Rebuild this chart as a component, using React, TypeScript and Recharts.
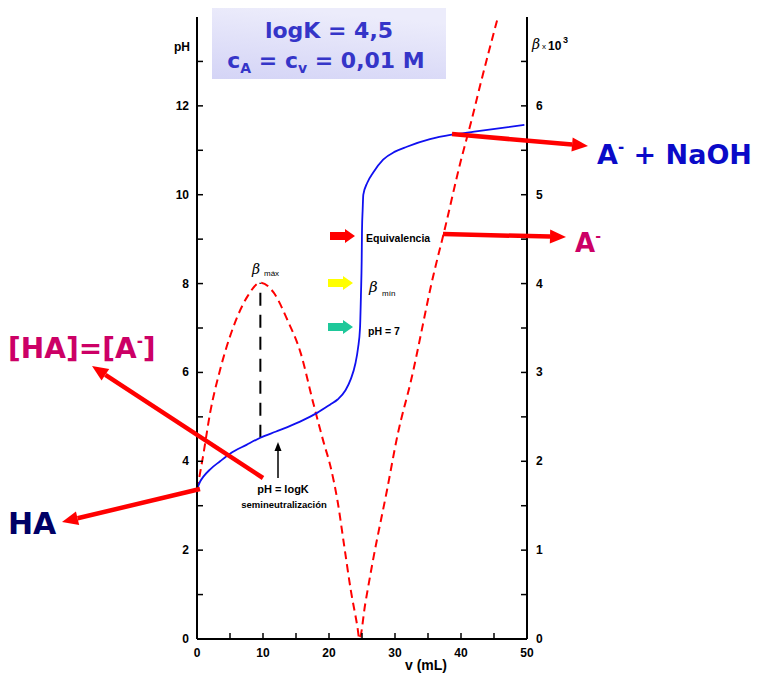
import { LineChart, Line, XAxis, YAxis, ReferenceLine } from 'recharts';

// titration of a weak acid (logK 4,5) with NaOH, both 0,01 M
const phVolumes = [0, 0.5, 1, 2, 3.5, 5, 7.5, 9.6, 12, 13.7, 16, 18.2, 20.2, 21.3, 22.5, 23.3, 24, 24.4, 24.7, 24.85, 24.95, 25, 25.1, 25.2, 25.8, 26.7, 28.2, 30, 31.8, 35.3, 38.6, 42, 46, 49.6];
const phValues = [3.38, 3.55, 3.66, 3.82, 4.0, 4.17, 4.37, 4.53, 4.67, 4.77, 4.92, 5.09, 5.28, 5.39, 5.6, 5.85, 6.2, 6.55, 7.0, 7.8, 8.5, 9.2, 9.66, 10.0, 10.27, 10.5, 10.79, 10.97, 11.08, 11.25, 11.35, 11.42, 11.5, 11.57];

// buffer capacity beta x 10^3
const betaVolumes = [0, 0.9, 2, 3.5, 5.5, 7.6, 9.6, 11.6, 13.7, 15.7, 17.6, 19.2, 20.2, 21.3, 22.3, 23.3, 24.3, 24.6, 25.5, 26.6, 28.8, 30.4, 32.4, 35.9, 37.4, 40, 41.5, 43, 45.6];
const betaValues = [1.68, 2.05, 2.55, 3.03, 3.51, 3.85, 4.01, 3.9, 3.59, 3.22, 2.66, 2.21, 1.95, 1.55, 1.05, 0.55, 0.14, 0, 0.4, 0.86, 1.68, 2.3, 2.9, 4.12, 4.57, 5.39, 5.81, 6.26, 7.0];

const phTicks = [0, 1, 2, 3, 4, 5, 6, 7, 8, 9, 10, 11, 12, 13];
const betaTicks = [0, 0.5, 1, 1.5, 2, 2.5, 3, 3.5, 4, 4.5, 5, 5.5, 6, 6.5];
const vTicks = [0, 5, 10, 15, 20, 25, 30, 35, 40, 45, 50];

// beta max marker: volume, pH on the curve, top (beta 4,01 -> pH scale)
const bmaxV = 9.6;
const bmaxPhLow = 4.53;
const bmaxPhTop = 8.02;

const phData = phVolumes.map((v, i) => ({ v, ph: phValues[i] }));
const betaData = betaVolumes.map((v, i) => ({ v, beta: betaValues[i] }));

const tickFont = { fontFamily: '"Liberation Sans", Arial, sans-serif', fontWeight: 700, fontSize: 12 };
const bigFont = '"DejaVu Sans", Verdana, sans-serif';

const LeftTick = (props: any) => {
  const { x, y, payload } = props;
  const val = payload.value;
  return (
    <g>
      <line x1={x} x2={x + 6} y1={y} y2={y} stroke="#000" strokeWidth={1.5} />
      {val % 2 === 0 && val <= 12 ? (
        <text x={x - 8} y={y + 4} textAnchor="end" fill="#000" {...tickFont}>{val}</text>
      ) : null}
    </g>
  );
};

const RightTick = (props: any) => {
  const { x, y, payload } = props;
  const val = payload.value;
  return (
    <g>
      <line x1={x - 6} x2={x} y1={y} y2={y} stroke="#000" strokeWidth={1.5} />
      {Number.isInteger(val) ? (
        <text x={x + 9} y={y + 4} textAnchor="start" fill="#000" {...tickFont}>{val}</text>
      ) : null}
    </g>
  );
};

const BottomTick = (props: any) => {
  const { x, y, payload } = props;
  const val = payload.value;
  return (
    <g>
      <line x1={x} x2={x} y1={y - 6} y2={y} stroke="#000" strokeWidth={1.5} />
      {val % 10 === 0 ? (
        <text x={x} y={y + 18} textAnchor="middle" fill="#000" {...tickFont}>{val}</text>
      ) : null}
    </g>
  );
};

function Arrow({ x1, y1, x2, y2, color = '#ff0000', w = 4.5, head = 16, hw = 7 }: any) {
  const dx = x2 - x1;
  const dy = y2 - y1;
  const len = Math.sqrt(dx * dx + dy * dy);
  const ux = dx / len;
  const uy = dy / len;
  const bx = x2 - ux * head;
  const by = y2 - uy * head;
  const px = -uy;
  const py = ux;
  const pts = `${x2},${y2} ${bx + px * hw},${by + py * hw} ${bx - px * hw},${by - py * hw}`;
  return (
    <g>
      <line x1={x1} y1={y1} x2={bx} y2={by} stroke={color} strokeWidth={w} />
      <polygon points={pts} fill={color} />
    </g>
  );
}

function BlockArrow({ x, y, color }: any) {
  // small horizontal block arrow, left edge x, centre y
  const pts = `${x},${y - 4} ${x + 15},${y - 4} ${x + 15},${y - 7} ${x + 25},${y} ${x + 15},${y + 7} ${x + 15},${y + 4} ${x},${y + 4}`;
  return <polygon points={pts} fill={color} />;
}

function Overlay() {
  return (
    <svg width={762} height={675} style={{ position: 'absolute', left: 0, top: 0, pointerEvents: 'none' }}>
      <defs>
        <linearGradient id="boxGrad" x1="0" y1="1" x2="0.3" y2="0">
          <stop offset="0%" stopColor="#d4d4f6" />
          <stop offset="100%" stopColor="#ececfb" />
        </linearGradient>
      </defs>
      <rect x={212} y={8} width={234} height={71} fill="url(#boxGrad)" />
      <text x={329} y={38} textAnchor="middle" fill="#3535c8" fontFamily={bigFont} fontWeight={700} fontSize={22}>
        logK = 4,5
      </text>
      <text x={326} y={68} textAnchor="middle" fill="#3535c8" fontFamily={bigFont} fontWeight={700} fontSize={22}>
        c<tspan fontSize={14} dy={5}>A</tspan>
        <tspan dy={-5}> = c</tspan>
        <tspan fontSize={14} dy={5}>v</tspan>
        <tspan dy={-5}> = 0,01 M</tspan>
      </text>

      {/* axis titles */}
      <text x={190} y={51} textAnchor="end" fill="#000" {...tickFont}>pH</text>
      <text x={532} y={49} fill="#000" fontFamily="'DejaVu Serif', serif" fontStyle="italic" fontSize={14}>β</text>
      <text x={542} y={49} fill="#000" fontFamily='"Liberation Sans", sans-serif' fontSize={8}>x</text>
      <text x={548} y={50} fill="#000" {...tickFont}>10</text>
      <text x={563} y={43} fill="#000" fontFamily='"Liberation Sans", sans-serif' fontWeight={700} fontSize={9}>3</text>
      <text x={426} y={670} textAnchor="middle" fill="#000" fontFamily='"Liberation Sans", sans-serif' fontWeight={700} fontSize={14}>
        v (mL)
      </text>

      {/* beta max / min markers */}
      <text x={252} y={274} fill="#000" fontFamily="'DejaVu Serif', serif" fontStyle="italic" fontSize={14}>β</text>
      <text x={264} y={276} fill="#000" fontFamily='"Liberation Sans", sans-serif' fontSize={8}>máx</text>
      <BlockArrow x={330} y={236} color="#ff0000" />
      <text x={366} y={242} fill="#000" fontFamily='"Liberation Sans", sans-serif' fontWeight={700} fontSize={10.5}>Equivalencia</text>
      <BlockArrow x={328} y={283} color="#ffff00" />
      <text x={369} y={292} fill="#000" fontFamily="'DejaVu Serif', serif" fontStyle="italic" fontSize={15}>β</text>
      <text x={382} y={296} fill="#000" fontFamily='"Liberation Sans", sans-serif' fontSize={8}>mín</text>
      <BlockArrow x={328} y={327} color="#1ec89a" />
      <text x={368} y={335} fill="#000" fontFamily='"Liberation Sans", sans-serif' fontWeight={700} fontSize={10.5}>pH = 7</text>

      <text x={283} y={493} textAnchor="middle" fill="#000" fontFamily='"Liberation Sans", sans-serif' fontWeight={700} fontSize={11}>pH = logK</text>
      <text x={284} y={508} textAnchor="middle" fill="#000" fontFamily='"Liberation Sans", sans-serif' fontWeight={700} fontSize={9.5}>semineutralización</text>
      <Arrow x1={278} y1={478} x2={278} y2={442} color="#000" w={1.5} head={9} hw={3.5} />

      {/* species labels */}
      <Arrow x1={452} y1={134} x2={588} y2={146} />
      <text x={597} y={164} fill="#0a0ac8" fontFamily={bigFont} fontWeight={700} fontSize={27}>
        A<tspan fontSize={15} dy={-12}>-</tspan>
        <tspan dy={12}> + NaOH</tspan>
      </text>
      <Arrow x1={443} y1={234} x2={566} y2={237} />
      <text x={575} y={252} fill="#cc0066" fontFamily={bigFont} fontWeight={700} fontSize={26}>
        A<tspan fontSize={14} dy={-11}>-</tspan>
      </text>
      <Arrow x1={263} y1={478} x2={92} y2={366} />
      <text x={8} y={358} fill="#cc0066" fontFamily={bigFont} fontWeight={700} fontSize={28}>
        [HA]=[A<tspan fontSize={15} dy={-12}>-</tspan>
        <tspan dy={12}>]</tspan>
      </text>
      <Arrow x1={200} y1={489} x2={62} y2={522} />
      <text x={8} y={534} fill="#000066" fontFamily={bigFont} fontWeight={700} fontSize={30}>HA</text>
    </svg>
  );
}

export default function App() {
  return (
    <div style={{ position: 'absolute', left: 0, top: 0, width: 762, height: 675, background: '#fff' }}>
      <LineChart width={762} height={675} margin={{ top: 17, right: 195, bottom: 0, left: 0 }}>
        <XAxis
          type="number"
          dataKey="v"
          domain={[0, 50]}
          ticks={vTicks}
          interval={0}
          height={36}
          stroke="#000"
          strokeWidth={2}
          tickSize={0}
          tickMargin={0}
          tick={<BottomTick />}
        />
        <YAxis
          yAxisId="ph"
          orientation="left"
          domain={[0, 14]}
          ticks={phTicks}
          interval={0}
          width={197}
          stroke="#000"
          strokeWidth={2}
          tickSize={0}
          tickMargin={0}
          tick={<LeftTick />}
        />
        <YAxis
          yAxisId="beta"
          orientation="right"
          domain={[0, 7]}
          ticks={betaTicks}
          interval={0}
          width={40}
          allowDataOverflow
          stroke="#000"
          strokeWidth={2}
          tickSize={0}
          tickMargin={0}
          tick={<RightTick />}
        />
        <ReferenceLine
          yAxisId="ph"
          segment={[{ x: bmaxV, y: bmaxPhLow }, { x: bmaxV, y: bmaxPhTop }]}
          stroke="#000"
          strokeWidth={2}
          strokeDasharray="13 9"
        />
        <Line
          yAxisId="beta"
          data={betaData}
          dataKey="beta"
          type="monotone"
          stroke="#ff0000"
          strokeWidth={2}
          strokeDasharray="8 5"
          dot={false}
          isAnimationActive={false}
        />
        <Line
          yAxisId="ph"
          data={phData}
          dataKey="ph"
          type="monotone"
          stroke="#1010f0"
          strokeWidth={1.8}
          dot={false}
          isAnimationActive={false}
        />
      </LineChart>
      <Overlay />
    </div>
  );
}
